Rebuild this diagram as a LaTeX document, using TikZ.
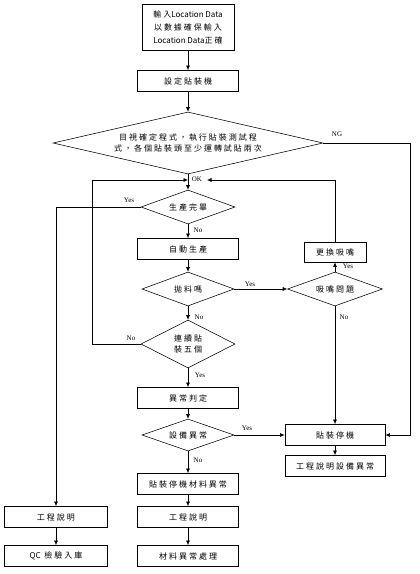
\documentclass[tikz,border=0pt]{standalone}
\usepackage{fontspec}
\setmainfont{Liberation Serif}
\newfontfamily\cjk[LetterSpace=25]{Noto Sans CJK TC}
\newfontfamily\cjkn{Noto Sans CJK TC}
\usetikzlibrary{shapes.geometric,arrows.meta}
\begin{document}
\begin{tikzpicture}[x=1pt,y=-1pt,
  box/.style={draw,line width=0.8pt,rectangle,minimum width=101pt,minimum height=21pt,inner sep=1pt,font=\cjk\fontsize{8}{10}\selectfont,align=center},
  dia/.style={draw,line width=0.55pt,diamond,inner sep=0pt,font=\cjk\fontsize{8}{11}\selectfont,align=center},
  lab/.style={font=\fontsize{7}{8}\selectfont,inner sep=1pt},
  arr/.style={-{Latex[length=4.5pt,width=4pt]},line width=0.55pt}]
\useasboundingbox (0,0) rectangle (420,574);
% nodes
\node[box,minimum width=92pt,minimum height=46pt,font=\cjk\fontsize{8}{13}\selectfont] (b1) at (188,27) {輸入{\cjkn Location Data}\\以數據確保輸入\\{\cjkn Location Data}正確};
\node[box] (b2) at (188,81) {設定貼裝機};
\node[dia,minimum width=270pt,minimum height=62pt,aspect=4.3] (d1) at (188,143) {目視確定程式，執行貼裝測試程\\式，各個貼裝頭至少運轉試貼兩次};
\node[dia,minimum width=94pt,minimum height=34pt,aspect=2.7] (d2) at (188,207) {生產完畢};
\node[box] (b3) at (188,249) {自動生產};
\node[dia,minimum width=92pt,minimum height=34pt,aspect=2.7] (d3) at (188,289) {拋料嗎};
\node[dia,minimum width=95pt,minimum height=34pt,aspect=2.7] (d4) at (335,289) {吸嘴問題};
\node[box,minimum width=62pt,minimum height=20pt] (b4) at (335,252) {更換吸嘴};
\node[dia,minimum width=94pt,minimum height=48pt,aspect=2] (d5) at (188,344) {連續貼\\裝五個};
\node[box] (b5) at (188,398) {異常判定};
\node[dia,minimum width=92pt,minimum height=32pt,aspect=2.8] (d6) at (188,435) {設備異常};
\node[box,minimum width=100pt] (b6) at (335,435) {貼裝停機};
\node[box,minimum width=100pt] (b7) at (335,466) {工程說明設備異常};
\node[box] (b8) at (188,484) {貼裝停機材料異常};
\node[box] (b9) at (188,517) {工程說明};
\node[box] (b10) at (188,556) {材料異常處理};
\node[box,minimum width=103pt] (b11) at (56,517) {工程說明};
\node[box,minimum width=103pt] (b12) at (56,556) {{\cjkn QC} 檢驗入庫};
% coordinates
\coordinate (ngc) at (410,143);
\coordinate (lt) at (92,180);
\coordinate (jn) at (188,180);
\coordinate (rj) at (207,180);
\coordinate (yl) at (56,207);
% connectors
\draw[arr] (b1) -- (b2);
\draw[arr] (b2) -- (d1.north);
\draw[arr] (d1.south) -- (d2.north);
\draw[arr] (d2.south) -- (b3);
\draw[arr] (b3) -- (d3.north);
\draw[arr] (d3.south) -- (d5.north);
\draw[arr] (d5.south) -- (b5);
\draw[arr] (b5) -- (d6.north);
\draw[arr] (d6.south) -- (b8);
\draw[arr] (b8) -- (b9);
\draw[arr] (b9) -- (b10);
\draw[arr] (b11) -- (b12);
\draw[arr] (b6) -- (b7);
\draw[arr] (d3.east) -- (d4.west);
\draw[arr] (d4.north) -- (b4.south);
\draw[arr] (d4.south) -- (b6.north);
\draw[arr] (d6.east) -- (b6.west);
\draw[arr] (d1.east) -- (ngc) |- (b6.east);
\draw[arr] (d5.west) -| (lt) -- (jn);
\draw[arr] (b4.north) |- (rj);
\draw[arr] (d2.west) -- (yl) -- (b11.north);
% labels
\node[lab] (lok) at (197,179) {OK};
\node[lab] (lng) at (337,134) {NG};
\node[lab] (ly1) at (129,200) {Yes};
\node[lab] (ln1) at (198,230) {No};
\node[lab] (ly2) at (250,284) {Yes};
\node[lab] (ln2) at (199,317) {No};
\node[lab] (ly3) at (348,266) {Yes};
\node[lab] (ln3) at (344,317) {No};
\node[lab] (ln4) at (131,338) {No};
\node[lab] (ly4) at (200,375) {Yes};
\node[lab] (ly5) at (247,428) {Yes};
\node[lab] (ln5) at (198,460) {No};
\end{tikzpicture}
\end{document}
